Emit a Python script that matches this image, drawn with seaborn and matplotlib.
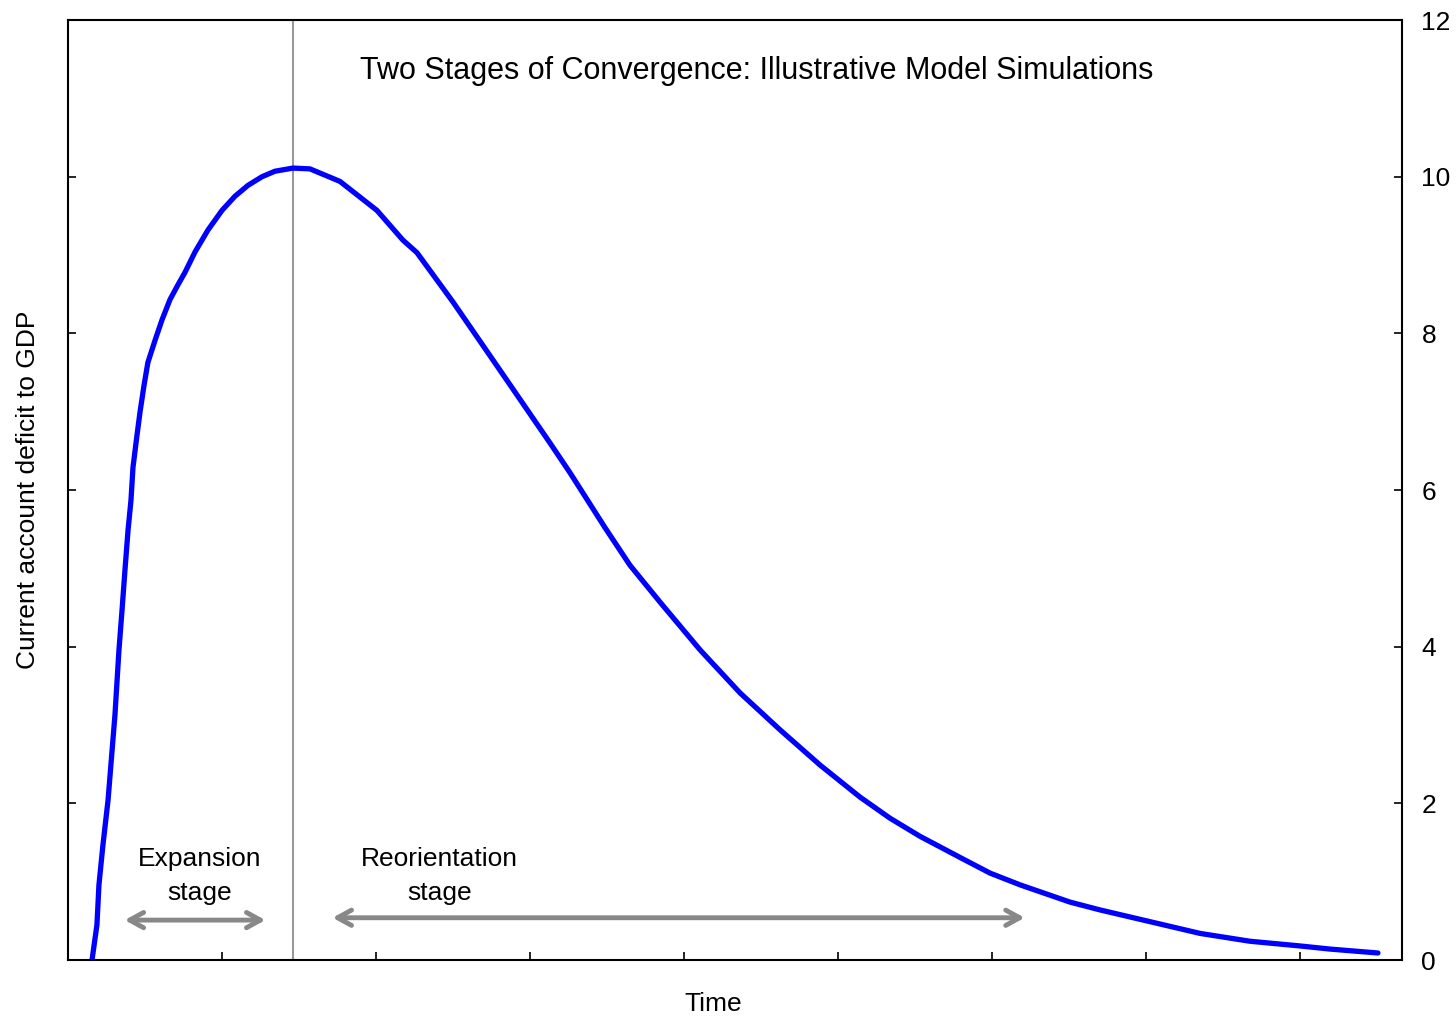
import numpy as np
import pandas as pd
import matplotlib.pyplot as plt
import seaborn as sns

# Simulated current account deficit path (time in model periods)
time = [1.56, 1.88, 2.01, 2.27, 2.60, 3.05, 3.31, 3.51, 3.70, 3.90, 4.09, 4.22,
        4.48, 4.68, 4.94, 5.19, 5.65, 6.10, 6.62, 7.14, 7.60, 8.25, 9.09, 10.0,
        10.84, 11.69, 12.60, 13.44, 14.61, 15.71, 17.66, 20.06, 21.75, 22.66,
        25.0, 28.05, 31.30, 32.60, 34.87, 36.49, 38.44, 41.04, 43.64, 46.23,
        48.83, 51.43, 53.38, 55.32, 57.92, 59.87, 61.82, 65.06, 67.01, 70.26,
        73.51, 76.75, 80.0, 81.95, 85.06]
deficit = [0.0, 0.45, 0.96, 1.47, 2.04, 3.13, 3.96, 4.47, 4.98, 5.49, 5.87, 6.29,
           6.70, 7.00, 7.34, 7.63, 7.91, 8.17, 8.43, 8.62, 8.78, 9.04, 9.32, 9.57,
           9.75, 9.89, 10.0, 10.07, 10.11, 10.10, 9.94, 9.57, 9.19, 9.03,
           8.40, 7.53, 6.60, 6.22, 5.52, 5.04, 4.57, 3.96, 3.41, 2.94,
           2.49, 2.08, 1.81, 1.58, 1.31, 1.11, 0.96, 0.74, 0.64, 0.49,
           0.34, 0.24, 0.18, 0.14, 0.09]
peak_time = 14.61

df = pd.DataFrame({"time": time, "deficit": deficit})

sns.set_style("white")
plt.rcParams["font.family"] = ["Liberation Sans", "DejaVu Sans"]
plt.rcParams["text.color"] = "black"
plt.rcParams["axes.labelcolor"] = "black"
plt.rcParams["ytick.color"] = "black"
plt.rcParams["xtick.color"] = "black"

fig = plt.figure(figsize=(14.56, 10.17), dpi=100)
ax = fig.add_axes([0.0467, 0.056, 0.9162, 0.9243])

sns.lineplot(data=df, x="time", y="deficit", color="#0000ff", linewidth=3.8, ax=ax)
ax.axvline(peak_time, color="#999999", linewidth=1.5, zorder=1)

ax.set_xlim(0, 86.62)
ax.set_ylim(0, 12)
ax.set_xticks(np.arange(10, 86, 10))
ax.set_xticklabels([])
ax.set_yticks(np.arange(0, 13, 2))
ax.tick_params(axis="y", left=True, right=True, labelleft=False, labelright=True,
               direction="in", length=6, width=1.2, labelsize=19, pad=14)
ax.tick_params(axis="x", bottom=True, direction="in", length=6, width=1.2)
for s in ax.spines.values():
    s.set_linewidth(1.5)
    s.set_color("black")

ax.set_xlabel("Time", fontsize=19)
ax.xaxis.set_label_coords(0.4835, -0.034)
ax.set_ylabel("Current account deficit to GDP", fontsize=19, labelpad=20)

ax.text(0.5165, 0.946, "Two Stages of Convergence: Illustrative Model Simulations",
        transform=ax.transAxes, ha="center", va="center", fontsize=22)

arrow_kw = dict(arrowstyle="<->,head_length=1.0,head_width=0.55", color="#888888", lw=3.5)
ax.annotate("", xy=(13.0, 0.51), xytext=(3.5, 0.51), arrowprops=arrow_kw)
ax.annotate("", xy=(62.3, 0.54), xytext=(17.0, 0.54), arrowprops=arrow_kw)
ax.text(8.57, 1.07, "Expansion\nstage", ha="center", va="center", fontsize=19,
        linespacing=1.5)
ax.text(24.1, 1.07, "Reorientation\nstage", ha="center", va="center", fontsize=19,
        linespacing=1.5)

fig.savefig("out.png", dpi=100)
